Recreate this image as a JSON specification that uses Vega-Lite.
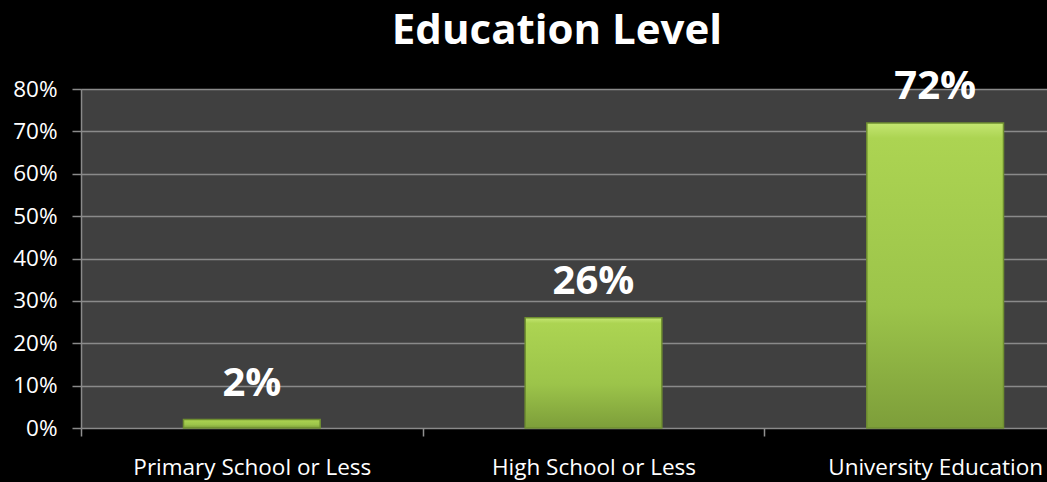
{
  "$schema": "https://vega.github.io/schema/vega-lite/v6.json",
  "autosize": "none",
  "width": 966,
  "height": 339,
  "padding": {"left": 81, "top": 89, "right": 0, "bottom": 54},
  "background": "black",
  "title": {
    "text": "Education Level",
    "font": "Open Sans",
    "fontSize": 42,
    "fontWeight": "bold",
    "color": "white",
    "anchor": "middle",
    "baseline": "alphabetic",
    "offset": 10,
    "dy": 29,
    "dx": -7
  },
  "config": {
    "view": {"fill": "#404040", "stroke": null},
    "axis": {"labelFont": "Open Sans", "labelColor": "white", "labelFontSize": 22.5, "labelLimit": 400}
  },
  "data": {
    "values": [
      {"level": "Primary School or Less", "share": 0.02, "label": "2%"},
      {"level": "High School or Less", "share": 0.26, "label": "26%"},
      {"level": "University Education", "share": 0.72, "label": "72%"}
    ]
  },
  "encoding": {
    "x": {
      "field": "level",
      "type": "nominal",
      "sort": null,
      "scale": {"range": [0, 1025], "paddingInner": 0, "paddingOuter": 0},
      "axis": {
        "title": null,
        "labelAngle": 0,
        "tickBand": "extent",
        "tickSize": 8,
        "tickColor": "#909090",
        "tickWidth": 1.5,
        "domain": false,
        "labelBaseline": "alphabetic",
        "labelPadding": 38,
        "grid": false
      }
    },
    "y": {
      "field": "share",
      "type": "quantitative",
      "scale": {"domain": [0, 0.8]},
      "axis": {
        "title": null,
        "format": ".0%",
        "values": [0, 0.1, 0.2, 0.3, 0.4, 0.5, 0.6, 0.7, 0.8],
        "grid": true,
        "gridColor": "#8a8a8a",
        "gridWidth": 1.5,
        "domainColor": "#8a8a8a",
        "domainWidth": 1.5,
        "tickColor": "#8a8a8a",
        "tickWidth": 1.5,
        "tickSize": 9,
        "labelPadding": 15
      }
    }
  },
  "layer": [
    {
      "mark": {
        "type": "bar",
        "width": {"band": 0.4},
        "stroke": "#6f8f30",
        "strokeWidth": 1.5,
        "fill": {
          "gradient": "linear",
          "x1": 0, "y1": 0, "x2": 0, "y2": 1,
          "stops": [
            {"offset": 0, "color": "#c4e672"},
            {"offset": 0.05, "color": "#acd452"},
            {"offset": 0.6, "color": "#9cc44a"},
            {"offset": 1, "color": "#7d9e3a"}
          ]
        }
      }
    },
    {
      "mark": {
        "type": "text",
        "font": "Open Sans",
        "fontSize": 40,
        "fontWeight": "bold",
        "color": "white",
        "baseline": "alphabetic",
        "dy": -24
      },
      "encoding": {"text": {"field": "label"}}
    }
  ]
}
